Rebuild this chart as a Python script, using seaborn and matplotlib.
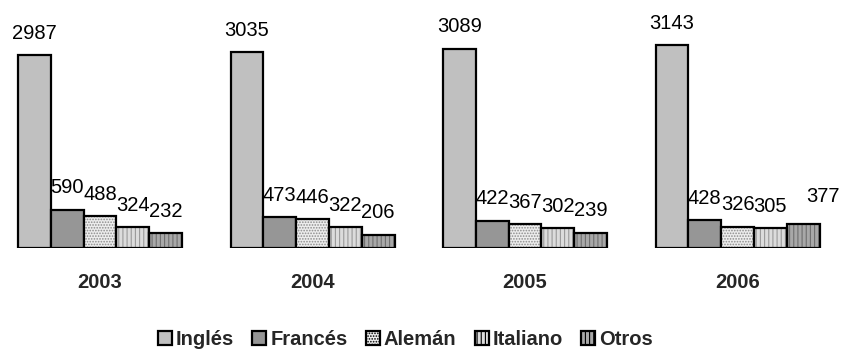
import matplotlib
matplotlib.use("Agg")
import matplotlib.pyplot as plt
from matplotlib.patches import Patch, Rectangle
import seaborn as sns
import pandas as pd

years = ["2003", "2004", "2005", "2006"]
languages = ["Inglés", "Francés", "Alemán", "Italiano", "Otros"]
ingles = [2987, 3035, 3089, 3143]
frances = [590, 473, 422, 428]
aleman = [488, 446, 367, 326]
italiano = [324, 322, 302, 305]
otros = [232, 206, 239, 377]

series = [ingles, frances, aleman, italiano, otros]
rows = []
for lang, vals in zip(languages, series):
    for y, v in zip(years, vals):
        rows.append({"Año": y, "Idioma": lang, "Valor": v})
df = pd.DataFrame(rows)

sns.set_theme(style="white")
plt.rcParams["font.family"] = ["Liberation Sans", "DejaVu Sans"]
plt.rcParams["hatch.linewidth"] = 0.8

face = {"Inglés": "#C0C0C0", "Francés": "#969696", "Alemán": "#EDEDED",
        "Italiano": "#DCDCDC", "Otros": "#A8A8A8"}
hatch = {"Inglés": None, "Francés": None, "Alemán": "......",
         "Italiano": "||||", "Otros": "||||"}
hatch_col = {"Alemán": "#8C8C8C", "Italiano": "#9A9A9A", "Otros": "#6E6E6E"}

fig = plt.figure(figsize=(8.43, 3.49), dpi=100)
ax = fig.add_axes([0.0, 0.2894, 1.0, 0.6476])

sns.barplot(data=df, x="Año", y="Valor", hue="Idioma", order=years,
            hue_order=languages, palette=face, width=0.772,
            edgecolor="black", linewidth=1.6, ax=ax, legend=False,
            saturation=1)

for lang, cont in zip(languages, ax.containers):
    for p in cont.patches:
        if hatch[lang]:
            p.set_hatch(hatch[lang])
            p.set_edgecolor(hatch_col[lang])
            p.set_linewidth(0)
            ax.add_patch(Rectangle((p.get_x(), p.get_y()), p.get_width(),
                                   p.get_height(), fill=False,
                                   edgecolor="black", linewidth=1.6,
                                   zorder=p.get_zorder() + 0.1))
    texts = ax.bar_label(cont, labels=[str(int(v)) for v in cont.datavalues],
                         padding=9, fontsize=14.5, color="black")
    if lang == "Otros":
        # last label in the reference sits a little to the right and higher
        t = texts[-1]
        t.xyann = (t.xyann[0] + 14, t.xyann[1] + 4)

ax.set_xlim(-0.4706, 3.496)
ax.set_ylim(0, 3500)
ax.set_xlabel("")
ax.set_ylabel("")
ax.set_yticks([])
ax.tick_params(axis="x", length=0, pad=18)
for lbl in ax.get_xticklabels():
    lbl.set_fontweight("bold")
    lbl.set_fontsize(14.5)
for s in ax.spines.values():
    s.set_visible(False)

handles = []
for lang in languages:
    if hatch[lang]:
        h = Patch(facecolor=face[lang], edgecolor="black", hatch=hatch[lang],
                  linewidth=1.6, label=lang)
    else:
        h = Patch(facecolor=face[lang], edgecolor="black", linewidth=1.6, label=lang)
    handles.append(h)
fig.legend(handles=handles, loc="center", bbox_to_anchor=(0.481, 0.028),
           ncol=5, frameon=False, handlelength=0.7, handleheight=0.7,
           handletextpad=0.2, columnspacing=0.9,
           prop={"weight": "bold", "size": 14.5})

fig.savefig("out.png", dpi=100)
